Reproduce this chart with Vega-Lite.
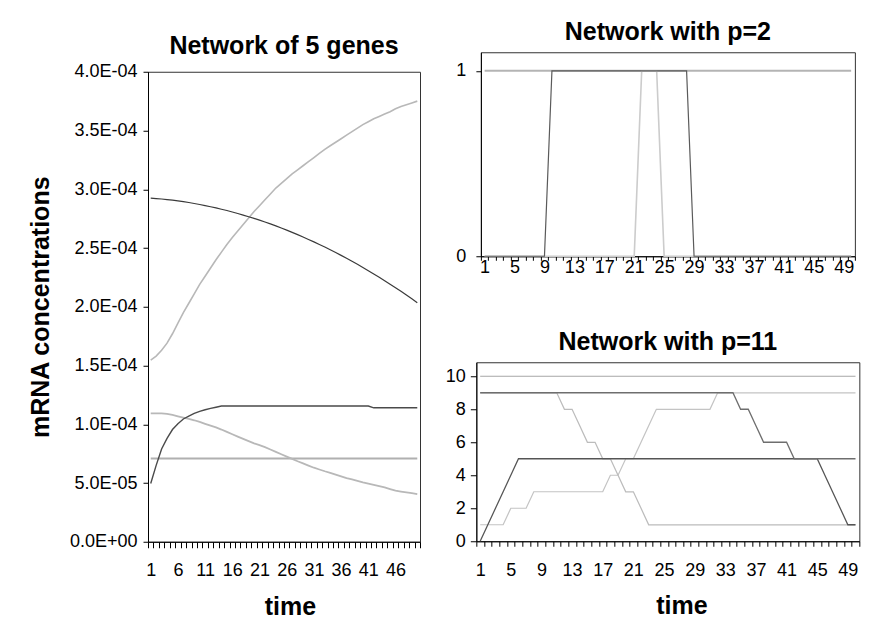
{
  "$schema": "https://vega.github.io/schema/vega-lite/v6.json",
  "padding": {"left": 27, "top": 19, "right": 0, "bottom": 0},
  "background": "white",
  "config": {
    "font": "Liberation Sans",
    "view": {"stroke": "#333333", "strokeWidth": 1},
    "axis": {"domainColor": "#000000", "tickColor": "#000000", "labelColor": "#000000", "titleColor": "#000000", "labelFont": "Liberation Sans", "titleFont": "Liberation Sans", "labelFontSize": 18, "titleFontSize": 25, "titleFontWeight": "bold", "grid": false, "domainWidth": 1, "tickWidth": 1},
    "title": {"font": "Liberation Sans", "fontSize": 25, "fontWeight": "bold", "color": "#000000", "frame": "group"}
  },
  "datasets": {
    "g5": [
      {"t":1,"a":2.925e-4,"b":1.546e-4,"c":0.496e-4,"d":1.092e-4,"e":0.709e-4},
      {"t":2,"a":2.921e-4,"b":1.58e-4,"c":0.65e-4,"d":1.092e-4,"e":0.709e-4},
      {"t":3,"a":2.917e-4,"b":1.63e-4,"c":0.79e-4,"d":1.092e-4,"e":0.709e-4},
      {"t":4,"a":2.912e-4,"b":1.69e-4,"c":0.88e-4,"d":1.088e-4,"e":0.709e-4},
      {"t":5,"a":2.907e-4,"b":1.77e-4,"c":0.955e-4,"d":1.08e-4,"e":0.709e-4},
      {"t":6,"a":2.901e-4,"b":1.86e-4,"c":1.005e-4,"d":1.068e-4,"e":0.709e-4},
      {"t":7,"a":2.894e-4,"b":1.95e-4,"c":1.045e-4,"d":1.057e-4,"e":0.709e-4},
      {"t":8,"a":2.887e-4,"b":2.03e-4,"c":1.07e-4,"d":1.045e-4,"e":0.709e-4},
      {"t":9,"a":2.879e-4,"b":2.11e-4,"c":1.092e-4,"d":1.034e-4,"e":0.709e-4},
      {"t":10,"a":2.870e-4,"b":2.19e-4,"c":1.11e-4,"d":1.02e-4,"e":0.709e-4},
      {"t":11,"a":2.861e-4,"b":2.26e-4,"c":1.123e-4,"d":1.004e-4,"e":0.709e-4},
      {"t":12,"a":2.851e-4,"b":2.33e-4,"c":1.135e-4,"d":0.988e-4,"e":0.709e-4},
      {"t":13,"a":2.841e-4,"b":2.40e-4,"c":1.145e-4,"d":0.973e-4,"e":0.709e-4},
      {"t":14,"a":2.830e-4,"b":2.465e-4,"c":1.155e-4,"d":0.955e-4,"e":0.709e-4},
      {"t":15,"a":2.819e-4,"b":2.53e-4,"c":1.155e-4,"d":0.935e-4,"e":0.709e-4},
      {"t":16,"a":2.806e-4,"b":2.59e-4,"c":1.155e-4,"d":0.915e-4,"e":0.709e-4},
      {"t":17,"a":2.794e-4,"b":2.645e-4,"c":1.155e-4,"d":0.895e-4,"e":0.709e-4},
      {"t":18,"a":2.780e-4,"b":2.70e-4,"c":1.155e-4,"d":0.875e-4,"e":0.709e-4},
      {"t":19,"a":2.766e-4,"b":2.755e-4,"c":1.155e-4,"d":0.856e-4,"e":0.709e-4},
      {"t":20,"a":2.752e-4,"b":2.81e-4,"c":1.155e-4,"d":0.838e-4,"e":0.709e-4},
      {"t":21,"a":2.737e-4,"b":2.86e-4,"c":1.155e-4,"d":0.822e-4,"e":0.709e-4},
      {"t":22,"a":2.721e-4,"b":2.91e-4,"c":1.155e-4,"d":0.805e-4,"e":0.709e-4},
      {"t":23,"a":2.705e-4,"b":2.96e-4,"c":1.155e-4,"d":0.785e-4,"e":0.709e-4},
      {"t":24,"a":2.688e-4,"b":3.01e-4,"c":1.155e-4,"d":0.765e-4,"e":0.709e-4},
      {"t":25,"a":2.670e-4,"b":3.05e-4,"c":1.155e-4,"d":0.745e-4,"e":0.709e-4},
      {"t":26,"a":2.652e-4,"b":3.09e-4,"c":1.155e-4,"d":0.725e-4,"e":0.709e-4},
      {"t":27,"a":2.633e-4,"b":3.13e-4,"c":1.155e-4,"d":0.705e-4,"e":0.709e-4},
      {"t":28,"a":2.614e-4,"b":3.165e-4,"c":1.155e-4,"d":0.685e-4,"e":0.709e-4},
      {"t":29,"a":2.594e-4,"b":3.20e-4,"c":1.155e-4,"d":0.667e-4,"e":0.709e-4},
      {"t":30,"a":2.573e-4,"b":3.235e-4,"c":1.155e-4,"d":0.648e-4,"e":0.709e-4},
      {"t":31,"a":2.552e-4,"b":3.27e-4,"c":1.155e-4,"d":0.63e-4,"e":0.709e-4},
      {"t":32,"a":2.530e-4,"b":3.305e-4,"c":1.155e-4,"d":0.615e-4,"e":0.709e-4},
      {"t":33,"a":2.508e-4,"b":3.34e-4,"c":1.155e-4,"d":0.6e-4,"e":0.709e-4},
      {"t":34,"a":2.485e-4,"b":3.37e-4,"c":1.155e-4,"d":0.587e-4,"e":0.709e-4},
      {"t":35,"a":2.461e-4,"b":3.40e-4,"c":1.155e-4,"d":0.572e-4,"e":0.709e-4},
      {"t":36,"a":2.437e-4,"b":3.43e-4,"c":1.155e-4,"d":0.556e-4,"e":0.709e-4},
      {"t":37,"a":2.412e-4,"b":3.46e-4,"c":1.155e-4,"d":0.541e-4,"e":0.709e-4},
      {"t":38,"a":2.387e-4,"b":3.49e-4,"c":1.155e-4,"d":0.53e-4,"e":0.709e-4},
      {"t":39,"a":2.361e-4,"b":3.52e-4,"c":1.155e-4,"d":0.518e-4,"e":0.709e-4},
      {"t":40,"a":2.334e-4,"b":3.55e-4,"c":1.155e-4,"d":0.505e-4,"e":0.709e-4},
      {"t":41,"a":2.307e-4,"b":3.575e-4,"c":1.155e-4,"d":0.495e-4,"e":0.709e-4},
      {"t":42,"a":2.279e-4,"b":3.60e-4,"c":1.14e-4,"d":0.485e-4,"e":0.709e-4},
      {"t":43,"a":2.251e-4,"b":3.62e-4,"c":1.14e-4,"d":0.474e-4,"e":0.709e-4},
      {"t":44,"a":2.222e-4,"b":3.64e-4,"c":1.14e-4,"d":0.462e-4,"e":0.709e-4},
      {"t":45,"a":2.192e-4,"b":3.66e-4,"c":1.14e-4,"d":0.448e-4,"e":0.709e-4},
      {"t":46,"a":2.162e-4,"b":3.685e-4,"c":1.14e-4,"d":0.435e-4,"e":0.709e-4},
      {"t":47,"a":2.131e-4,"b":3.705e-4,"c":1.14e-4,"d":0.427e-4,"e":0.709e-4},
      {"t":48,"a":2.100e-4,"b":3.72e-4,"c":1.14e-4,"d":0.42e-4,"e":0.709e-4},
      {"t":49,"a":2.068e-4,"b":3.735e-4,"c":1.14e-4,"d":0.413e-4,"e":0.709e-4},
      {"t":50,"a":2.035e-4,"b":3.75e-4,"c":1.14e-4,"d":0.406e-4,"e":0.709e-4}
    ],
    "p2": [
      {"t":1,"o":1,"b":0,"c":0},{"t":2,"o":1,"b":0,"c":0},{"t":3,"o":1,"b":0,"c":0},{"t":4,"o":1,"b":0,"c":0},{"t":5,"o":1,"b":0,"c":0},
      {"t":6,"o":1,"b":0,"c":0},{"t":7,"o":1,"b":0,"c":0},{"t":8,"o":1,"b":0,"c":0},{"t":9,"o":1,"b":0,"c":0},{"t":10,"o":1,"b":1,"c":0},
      {"t":11,"o":1,"b":1,"c":0},{"t":12,"o":1,"b":1,"c":0},{"t":13,"o":1,"b":1,"c":0},{"t":14,"o":1,"b":1,"c":0},{"t":15,"o":1,"b":1,"c":0},
      {"t":16,"o":1,"b":1,"c":0},{"t":17,"o":1,"b":1,"c":0},{"t":18,"o":1,"b":1,"c":0},{"t":19,"o":1,"b":1,"c":0},{"t":20,"o":1,"b":1,"c":0},
      {"t":21,"o":1,"b":1,"c":0},{"t":22,"o":1,"b":1,"c":1},{"t":23,"o":1,"b":1,"c":1},{"t":24,"o":1,"b":1,"c":1},{"t":25,"o":1,"b":1,"c":0},
      {"t":26,"o":1,"b":1,"c":0},{"t":27,"o":1,"b":1,"c":0},{"t":28,"o":1,"b":1,"c":0},{"t":29,"o":1,"b":0,"c":0},{"t":30,"o":1,"b":0,"c":0},
      {"t":31,"o":1,"b":0,"c":0},{"t":32,"o":1,"b":0,"c":0},{"t":33,"o":1,"b":0,"c":0},{"t":34,"o":1,"b":0,"c":0},{"t":35,"o":1,"b":0,"c":0},
      {"t":36,"o":1,"b":0,"c":0},{"t":37,"o":1,"b":0,"c":0},{"t":38,"o":1,"b":0,"c":0},{"t":39,"o":1,"b":0,"c":0},{"t":40,"o":1,"b":0,"c":0},
      {"t":41,"o":1,"b":0,"c":0},{"t":42,"o":1,"b":0,"c":0},{"t":43,"o":1,"b":0,"c":0},{"t":44,"o":1,"b":0,"c":0},{"t":45,"o":1,"b":0,"c":0},
      {"t":46,"o":1,"b":0,"c":0},{"t":47,"o":1,"b":0,"c":0},{"t":48,"o":1,"b":0,"c":0},{"t":49,"o":1,"b":0,"c":0},{"t":50,"o":1,"b":0,"c":0}
    ],
    "p11": [
      {"t":1,"h":10,"g":1,"f":9,"e1":0,"e2":9},{"t":2,"h":10,"g":1,"f":9,"e1":1,"e2":9},{"t":3,"h":10,"g":1,"f":9,"e1":2,"e2":9},
      {"t":4,"h":10,"g":1,"f":9,"e1":3,"e2":9},{"t":5,"h":10,"g":2,"f":9,"e1":4,"e2":9},{"t":6,"h":10,"g":2,"f":9,"e1":5,"e2":9},
      {"t":7,"h":10,"g":2,"f":9,"e1":5,"e2":9},{"t":8,"h":10,"g":3,"f":9,"e1":5,"e2":9},{"t":9,"h":10,"g":3,"f":9,"e1":5,"e2":9},
      {"t":10,"h":10,"g":3,"f":9,"e1":5,"e2":9},{"t":11,"h":10,"g":3,"f":9,"e1":5,"e2":9},{"t":12,"h":10,"g":3,"f":8,"e1":5,"e2":9},
      {"t":13,"h":10,"g":3,"f":8,"e1":5,"e2":9},{"t":14,"h":10,"g":3,"f":7,"e1":5,"e2":9},{"t":15,"h":10,"g":3,"f":6,"e1":5,"e2":9},
      {"t":16,"h":10,"g":3,"f":6,"e1":5,"e2":9},{"t":17,"h":10,"g":3,"f":5,"e1":5,"e2":9},{"t":18,"h":10,"g":4,"f":5,"e1":5,"e2":9},
      {"t":19,"h":10,"g":4,"f":4,"e1":5,"e2":9},{"t":20,"h":10,"g":5,"f":3,"e1":5,"e2":9},{"t":21,"h":10,"g":5,"f":3,"e1":5,"e2":9},
      {"t":22,"h":10,"g":6,"f":2,"e1":5,"e2":9},{"t":23,"h":10,"g":7,"f":1,"e1":5,"e2":9},{"t":24,"h":10,"g":8,"f":1,"e1":5,"e2":9},
      {"t":25,"h":10,"g":8,"f":1,"e1":5,"e2":9},{"t":26,"h":10,"g":8,"f":1,"e1":5,"e2":9},{"t":27,"h":10,"g":8,"f":1,"e1":5,"e2":9},
      {"t":28,"h":10,"g":8,"f":1,"e1":5,"e2":9},{"t":29,"h":10,"g":8,"f":1,"e1":5,"e2":9},{"t":30,"h":10,"g":8,"f":1,"e1":5,"e2":9},
      {"t":31,"h":10,"g":8,"f":1,"e1":5,"e2":9},{"t":32,"h":10,"g":9,"f":1,"e1":5,"e2":9},{"t":33,"h":10,"g":9,"f":1,"e1":5,"e2":9},
      {"t":34,"h":10,"g":9,"f":1,"e1":5,"e2":9},{"t":35,"h":10,"g":9,"f":1,"e1":5,"e2":8},{"t":36,"h":10,"g":9,"f":1,"e1":5,"e2":8},
      {"t":37,"h":10,"g":9,"f":1,"e1":5,"e2":7},{"t":38,"h":10,"g":9,"f":1,"e1":5,"e2":6},{"t":39,"h":10,"g":9,"f":1,"e1":5,"e2":6},
      {"t":40,"h":10,"g":9,"f":1,"e1":5,"e2":6},{"t":41,"h":10,"g":9,"f":1,"e1":5,"e2":6},{"t":42,"h":10,"g":9,"f":1,"e1":5,"e2":5},
      {"t":43,"h":10,"g":9,"f":1,"e1":5,"e2":5},{"t":44,"h":10,"g":9,"f":1,"e1":5,"e2":5},{"t":45,"h":10,"g":9,"f":1,"e1":5,"e2":5},
      {"t":46,"h":10,"g":9,"f":1,"e1":4,"e2":5},{"t":47,"h":10,"g":9,"f":1,"e1":3,"e2":5},{"t":48,"h":10,"g":9,"f":1,"e1":2,"e2":5},
      {"t":49,"h":10,"g":9,"f":1,"e1":1,"e2":5},{"t":50,"h":10,"g":9,"f":1,"e1":1,"e2":5}
    ]
  },
  "columns": 2,
  "align": "each",
  "center": true,
  "spacing": 17,
  "resolve": {"scale": {"color": "independent", "strokeWidth": "independent"}},
  "concat": [
    {
      "width": 272,
      "height": 470,
      "title": {"text": "Network of 5 genes", "offset": 4},
      "data": {"name": "g5"},
      "transform": [{"fold": ["e", "d", "b", "c", "a"], "as": ["series", "v"]}],
      "mark": {"type": "line"},
      "encoding": {
        "x": {
          "field": "t", "type": "quantitative",
          "scale": {"domain": [0.5, 50.5], "nice": false, "zero": false},
          "axis": {
            "values": [0.5,1.5,2.5,3.5,4.5,5.5,6.5,7.5,8.5,9.5,10.5,11.5,12.5,13.5,14.5,15.5,16.5,17.5,18.5,19.5,20.5,21.5,22.5,23.5,24.5,25.5,26.5,27.5,28.5,29.5,30.5,31.5,32.5,33.5,34.5,35.5,36.5,37.5,38.5,39.5,40.5,41.5,42.5,43.5,44.5,45.5,46.5,47.5,48.5,49.5,50.5],
            "labelExpr": "datum.value < 50 && (datum.value - 0.5) % 5 == 0 ? format(datum.value + 0.5, 'd') : ''",
            "labelOffset": 2.72, "labelFlush": false, "labelOverlap": false,
            "tickSize": 6, "labelPadding": 14,
            "title": "time", "titlePadding": 15, "titleX": 142
          }
        },
        "y": {
          "field": "v", "type": "quantitative",
          "scale": {"domain": [0, 0.0004], "nice": false},
          "axis": {
            "values": [0, 0.00005, 0.0001, 0.00015, 0.0002, 0.00025, 0.0003, 0.00035, 0.0004],
            "labelExpr": "datum.value == 0 ? '0.0E+00' : replace(upper(format(datum.value, '.1e')), 'E-', 'E-0')",
            "tickSize": 5, "labelPadding": 6,
            "title": "mRNA concentrations", "titlePadding": 16
          }
        },
        "color": {
          "field": "series", "type": "nominal",
          "scale": {"domain": ["e", "d", "b", "c", "a"], "range": ["#b0b0b0", "#b8b8b8", "#b8b8b8", "#4a4a4a", "#3a3a3a"]},
          "legend": null
        },
        "strokeWidth": {
          "field": "series", "type": "nominal",
          "scale": {"domain": ["e", "d", "b", "c", "a"], "range": [2, 1.2, 1.2, 1.3, 1.3]},
          "legend": null
        }
      }
    },
    {
      "columns": 1,
      "align": "each",
      "center": true,
      "spacing": 52,
      "resolve": {"scale": {"color": "independent", "strokeWidth": "independent"}},
      "concat": [
        {
          "width": 374,
          "height": 204,
          "title": {"text": "Network with p=2", "offset": 7},
          "data": {"name": "p2"},
          "transform": [{"fold": ["o", "c", "b"], "as": ["series", "v"]}],
          "mark": {"type": "line"},
          "encoding": {
            "x": {
              "field": "t", "type": "quantitative",
              "scale": {"domain": [0.5, 50.5], "nice": false, "zero": false},
              "axis": {
                "values": [0.5,1.5,2.5,3.5,4.5,5.5,6.5,7.5,8.5,9.5,10.5,11.5,12.5,13.5,14.5,15.5,16.5,17.5,18.5,19.5,20.5,21.5,22.5,23.5,24.5,25.5,26.5,27.5,28.5,29.5,30.5,31.5,32.5,33.5,34.5,35.5,36.5,37.5,38.5,39.5,40.5,41.5,42.5,43.5,44.5,45.5,46.5,47.5,48.5,49.5,50.5],
                "labelExpr": "(datum.value - 0.5) % 4 == 0 ? format(datum.value + 0.5, 'd') : ''",
                "labelOffset": 3.74, "labelFlush": false, "labelOverlap": false,
                "tickSize": 4, "labelPadding": -2,
                "title": null
              }
            },
            "y": {
              "field": "v", "type": "quantitative",
              "scale": {"domain": [0, 1.1], "nice": false},
              "axis": {"values": [0, 1], "format": "d", "tickSize": 5, "labelPadding": 10, "minExtent": 39, "title": null}
            },
            "color": {
              "field": "series", "type": "nominal",
              "scale": {"domain": ["o", "c", "b"], "range": ["#b4b4b4", "#cccccc", "#5a5a5a"]},
              "legend": null
            },
            "strokeWidth": {
              "field": "series", "type": "nominal",
              "scale": {"domain": ["o", "c", "b"], "range": [2, 1.2, 1.3]},
              "legend": null
            }
          }
        },
        {
          "width": 383,
          "height": 179,
          "title": {"text": "Network with p=11", "offset": 7},
          "data": {"name": "p11"},
          "transform": [{"fold": ["h", "g", "f", "e1", "e2"], "as": ["series", "v"]}],
          "mark": {"type": "line"},
          "encoding": {
            "x": {
              "field": "t", "type": "quantitative",
              "scale": {"domain": [0.5, 50.5], "nice": false, "zero": false},
              "axis": {
                "values": [0.5,1.5,2.5,3.5,4.5,5.5,6.5,7.5,8.5,9.5,10.5,11.5,12.5,13.5,14.5,15.5,16.5,17.5,18.5,19.5,20.5,21.5,22.5,23.5,24.5,25.5,26.5,27.5,28.5,29.5,30.5,31.5,32.5,33.5,34.5,35.5,36.5,37.5,38.5,39.5,40.5,41.5,42.5,43.5,44.5,45.5,46.5,47.5,48.5,49.5,50.5],
                "labelExpr": "(datum.value - 0.5) % 4 == 0 ? format(datum.value + 0.5, 'd') : ''",
                "labelOffset": 3.83, "labelFlush": false, "labelOverlap": false,
                "tickSize": 5, "labelPadding": 15,
                "title": ["time", ""], "titleLineHeight": 21, "titlePadding": 14, "titleX": 205
              }
            },
            "y": {
              "field": "v", "type": "quantitative",
              "scale": {"domain": [0, 10.85], "nice": false},
              "axis": {"values": [0, 2, 4, 6, 8, 10], "format": "d", "tickSize": 6, "labelPadding": 5, "title": null}
            },
            "color": {
              "field": "series", "type": "nominal",
              "scale": {"domain": ["h", "g", "f", "e1", "e2"], "range": ["#a6a6a6", "#c4c4c4", "#bcbcbc", "#555555", "#6e6e6e"]},
              "legend": null
            },
            "strokeWidth": {
              "field": "series", "type": "nominal",
              "scale": {"domain": ["h", "g", "f", "e1", "e2"], "range": [1.2, 1.3, 1.3, 1.3, 1.4]},
              "legend": null
            }
          }
        }
      ]
    }
  ]
}
